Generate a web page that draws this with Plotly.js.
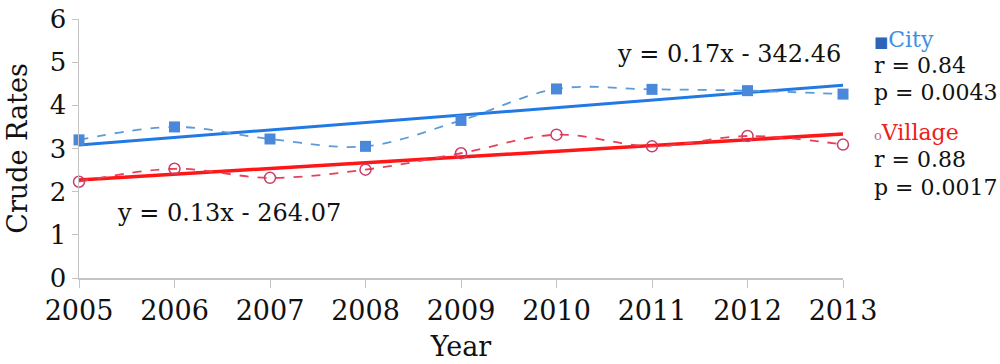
<!DOCTYPE html>
<html><head><meta charset="utf-8">
<script src="https://cdn.plot.ly/plotly-3.0.1.min.js"></script>
<style>html,body{margin:0;padding:0;background:#fff}#c{width:1000px;height:364px}</style>
</head><body><div id="c"></div>
<script>
const years = [2005, 2006, 2007, 2008, 2009, 2010, 2011, 2012, 2013];
const cityRates = [3.20, 3.50, 3.22, 3.05, 3.65, 4.38, 4.37, 4.34, 4.26];
const villageRates = [2.23, 2.53, 2.32, 2.51, 2.89, 3.32, 3.05, 3.29, 3.09];
const cityEquation = "y = 0.17x - 342.46";
const villageEquation = "y = 0.13x - 264.07";
const cityStats = ["r = 0.84", "p = 0.0043"];
const villageStats = ["r = 0.88", "p = 0.0017"];
const yTicks = [0, 1, 2, 3, 4, 5, 6];

function fit(xs, ys) {
  const n = xs.length;
  const mx = xs.reduce((a, b) => a + b, 0) / n;
  const my = ys.reduce((a, b) => a + b, 0) / n;
  let sxy = 0, sxx = 0;
  for (let i = 0; i < n; i++) { sxy += (xs[i] - mx) * (ys[i] - my); sxx += (xs[i] - mx) ** 2; }
  const m = sxy / sxx, b = my - m * mx;
  return [xs[0], xs[n - 1]].map(x => m * x + b);
}
const xEnds = [years[0], years[years.length - 1]];

const F = "DejaVu Serif, Liberation Serif, serif";
const traces = [
  {x: xEnds, y: fit(years, cityRates), mode: "lines", line: {color: "#2179e3", width: 3}, hoverinfo: "skip", cliponaxis: false},
  {x: xEnds, y: fit(years, villageRates), mode: "lines", line: {color: "#ff1616", width: 3.5}, hoverinfo: "skip", cliponaxis: false},
  {x: years, y: cityRates, mode: "lines+markers", line: {color: "#5d9ad8", width: 1.8, dash: "dash", shape: "spline", smoothing: 1},
   marker: {symbol: "square", size: 11, color: "#4a88dc"}, cliponaxis: false},
  {x: years, y: villageRates, mode: "lines+markers", line: {color: "#e8405a", width: 1.8, dash: "dash", shape: "spline", smoothing: 1},
   marker: {symbol: "circle-open", size: 11, color: "#c8406a", line: {width: 1.5}}, cliponaxis: false}
];

const ann = [];
function t(x, y, text) {
  ann.push({x: x, y: y, xref: "paper", yref: "paper", text: text, showarrow: false,
    xanchor: "left", yanchor: "middle", font: {family: F, size: 22, color: "#111"}});
}
ann.push({x: years[years.length - 1], y: 5.2, xref: "x", yref: "y", text: cityEquation, showarrow: false,
  xanchor: "right", yanchor: "middle", font: {family: F, size: 24, color: "#111"}});
ann.push({x: 2005.38, y: 1.5, xref: "x", yref: "y", text: villageEquation, showarrow: false,
  xanchor: "left", yanchor: "middle", font: {family: F, size: 24, color: "#111"}});
const lx = 1.038;
t(lx, 0.919, "<span style='color:#2d64b8;font-size:15px'>■</span><span style='color:#3d8fe3'>City</span>");
t(lx, 0.822, cityStats[0]);
t(lx, 0.718, cityStats[1]);
t(lx, 0.560, "<span style='color:#d06080;font-size:13px'>o</span><span style='color:#ee2020'>Village</span>");
t(lx, 0.456, villageStats[0]);
t(lx, 0.351, villageStats[1]);

const layout = {
  width: 1000, height: 364,
  margin: {l: 79, r: 157, t: 19, b: 86},
  paper_bgcolor: "#fff", plot_bgcolor: "#fff",
  showlegend: false,
  font: {family: F, color: "#111"},
  xaxis: {range: [2005, 2013], tickvals: years, ticktext: years.map(String), showgrid: false, zeroline: false,
    showline: true, linecolor: "#c4c4c4", linewidth: 1.5, ticks: "outside", ticklen: 8, tickcolor: "#c4c4c4",
    tickfont: {family: F, size: 27, color: "#111"},
    title: {text: "Year", font: {family: F, size: 27, color: "#111"}, standoff: 12}},
  yaxis: {range: [0, 6], tickvals: yTicks, showgrid: false, zeroline: false,
    showline: true, linecolor: "#c4c4c4", linewidth: 1.5, ticks: "outside", ticklen: 6, tickcolor: "#c4c4c4",
    tickfont: {family: F, size: 26, color: "#111"},
    title: {text: "Crude Rates", font: {family: F, size: 27, color: "#111"}, standoff: 14}},
  annotations: ann
};
Plotly.newPlot("c", traces, layout, {displayModeBar: false, staticPlot: true});
</script></body></html>
